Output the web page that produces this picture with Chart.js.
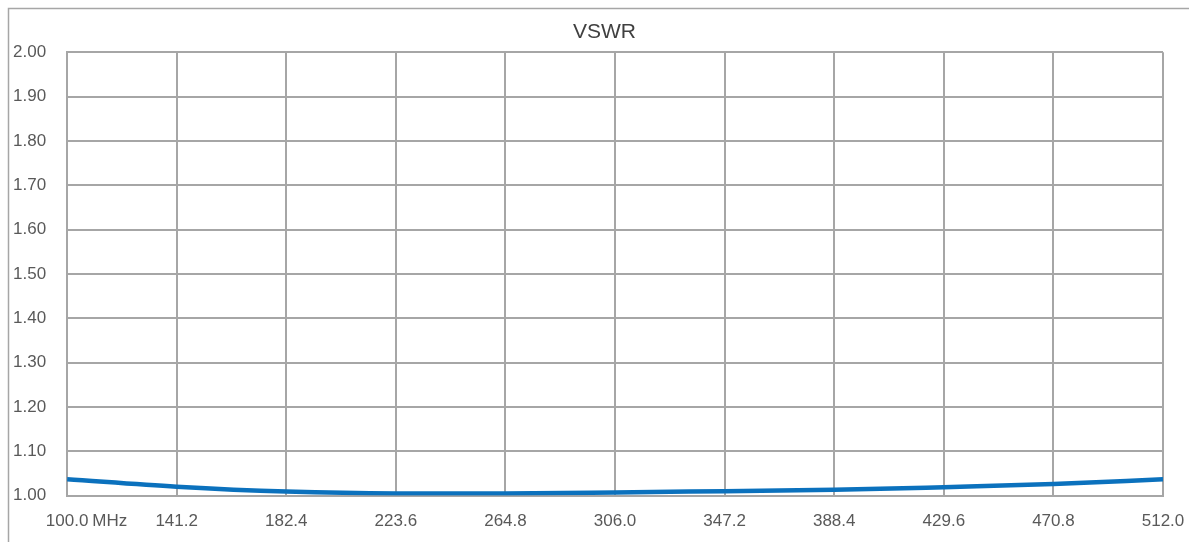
<!DOCTYPE html>
<html>
<head>
<meta charset="utf-8">
<script src="https://cdn.jsdelivr.net/npm/chart.js@4"></script>
<style>
  html, body { margin: 0; padding: 0; background: #ffffff; }
  #wrap { position: relative; width: 1189px; height: 542px; }
</style>
</head>
<body>
<div id="wrap"><canvas id="c" width="1189" height="542"></canvas></div>
<script>
// ---- data ----
const freqs = [100.0, 141.2, 182.4, 223.6, 264.8, 306.0, 347.2, 388.4, 429.6, 470.8, 512.0];
const vswr  = [1.037, 1.020, 1.009, 1.005, 1.005, 1.007, 1.010, 1.013, 1.019, 1.026, 1.037];
const xTicks = [100.0, 141.2, 182.4, 223.6, 264.8, 306.0, 347.2, 388.4, 429.6, 470.8, 512.0];
const yTicks = [1.00, 1.10, 1.20, 1.30, 1.40, 1.50, 1.60, 1.70, 1.80, 1.90, 2.00];
const titleText = 'VSWR';
const unitText = 'MHz';

const gridColor = '#a6a6a6';
const labelColor = '#595959';
const fontFamily = '"Liberation Sans", Arial, sans-serif';
const tickFont = { family: fontFamily, size: 17 };

const frame = {
  id: 'frame',
  afterLayout(chart) {
    const t = chart.titleBlock;
    if (t) { t.left = 46; t.right = 1163; t.width = t.right - t.left; }
  },
  beforeDraw(chart) {
    const ctx = chart.ctx;
    ctx.save();
    ctx.strokeStyle = '#a6a6a6';
    ctx.lineWidth = 1.5;
    ctx.strokeRect(8.5, 8.5, 1400, 800);
    ctx.restore();
  },
  afterDraw(chart) {
    const xs = chart.scales.x;
    const ctx = chart.ctx;
    const items = xs.getLabelItems();
    if (!items.length) return;
    const it = items[0];
    ctx.save();
    ctx.font = '17px ' + fontFamily;
    ctx.fillStyle = labelColor;
    ctx.textBaseline = it.options.textBaseline || 'middle';
    ctx.textAlign = 'left';
    const w = ctx.measureText(String(it.label)).width;
    const px = xs.getPixelForValue(xs.ticks[0].value);
    ctx.fillText(unitText, px + w / 2 + 4, it.options.translation[1] + (it.textOffset || 0));
    ctx.restore();
  }
};

new Chart(document.getElementById('c'), {
  type: 'line',
  data: {
    datasets: [{
      data: freqs.map((f, i) => ({ x: f, y: vswr[i] })),
      borderColor: '#0b71bd',
      borderWidth: 4.5,
      pointRadius: 0,
      cubicInterpolationMode: 'monotone',
      fill: false
    }]
  },
  options: {
    responsive: false,
    animation: false,
    devicePixelRatio: 1,
    layout: { padding: { left: 13, top: 10, right: 26, bottom: -6 } },
    plugins: {
      legend: { display: false },
      tooltip: { enabled: false },
      title: {
        display: true,
        text: titleText,
        color: '#404040',
        font: { family: fontFamily, size: 21, weight: 'normal' },
        padding: { top: 10, bottom: 7 }
      }
    },
    scales: {
      x: {
        type: 'linear',
        min: xTicks[0],
        max: xTicks[xTicks.length - 1],
        afterBuildTicks: (s) => { s.ticks = xTicks.map(v => ({ value: v })); },
        afterFit: (s) => { s.paddingLeft = 0; s.paddingRight = 0; },
        ticks: {
          color: labelColor,
          font: tickFont,
          padding: 16,
          maxRotation: 0,
          autoSkip: false,
          callback: (v) => Number(v).toFixed(1)
        },
        grid: { color: gridColor, lineWidth: 2, drawTicks: false },
        border: { color: gridColor, width: 2 }
      },
      y: {
        min: yTicks[0],
        max: yTicks[yTicks.length - 1],
        afterBuildTicks: (s) => { s.ticks = yTicks.map(v => ({ value: v })); },
        afterFit: (s) => { s.paddingTop = 0; s.paddingBottom = 0; },
        ticks: {
          color: labelColor,
          font: tickFont,
          padding: 10.5,
          crossAlign: 'far',
          autoSkip: false,
          callback: (v) => Number(v).toFixed(2)
        },
        grid: { color: gridColor, lineWidth: 2, drawTicks: false },
        border: { color: gridColor, width: 2 }
      }
    }
  },
  plugins: [frame]
});
</script>
</body>
</html>
